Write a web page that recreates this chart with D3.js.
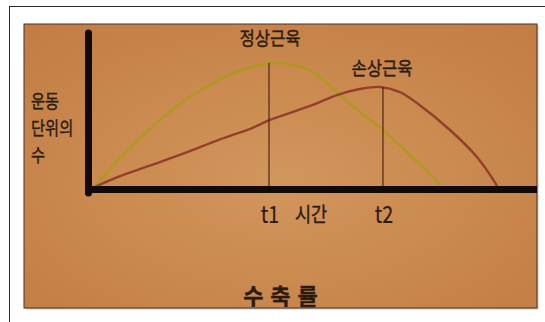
<!DOCTYPE html>
<html>
<head>
<meta charset="utf-8">
<script src="https://cdn.jsdelivr.net/npm/d3@7/dist/d3.min.js"></script>
<style>
  html, body { margin: 0; padding: 0; background: #ffffff; }
  svg { display: block; }
  text { font-family: "Noto Sans CJK KR", "Noto Sans", sans-serif; fill: #2b1a0e; stroke: #2b1a0e; stroke-width: 0.35px; }
</style>
</head>
<body>
<svg id="chart" width="545" height="322"></svg>
<script>
// Motor-unit recruitment over time: normal vs. damaged muscle
const seriesNames = ["정상근육", "손상근육"];

// time (arbitrary units) and number of motor units (relative)
const normalTime   = [0, 0.53, 1.31, 2.07, 2.83, 3.38, 4.0, 4.48, 5.01, 5.56, 6.09, 6.62, 7.24, 7.89, 7.95];
const normalUnits  = [0, 18, 40, 58, 71.3, 78, 82.7, 82, 76.7, 63.3, 50, 38, 21.3, 2.7, 0];

const damagedTime  = [0, 0.53, 1.31, 2.07, 2.83, 3.61, 4.02, 5.01, 5.56, 6.09, 6.55, 7.01, 7.40, 8.16, 8.78, 9.2, 9.25];
const damagedUnits = [0, 6.7, 14.7, 22.7, 31.3, 39.3, 44.7, 54.7, 61.3, 65.3, 66.7, 63.3, 56, 38, 20, 2.7, 0];

// marked time points
const markNames  = ["t1", "t2"];
const markTimes  = [4.0, 6.62];

const yTitleLines = ["운동", "단위의", "수"];
const xTitle = "시간";
const caption = "수 축 률";

const svg = d3.select("#chart");

// frame around the figure
svg.append("line").attr("x1", 9.5).attr("x2", 9.5).attr("y1", 6).attr("y2", 322)
  .attr("stroke", "#2a2a2a").attr("stroke-width", 1);
svg.append("line").attr("x1", 9).attr("x2", 545).attr("y1", 6.5).attr("y2", 6.5)
  .attr("stroke", "#2a2a2a").attr("stroke-width", 1);

// warm paper panel
const defs = svg.append("defs");
const grad = defs.append("radialGradient").attr("id", "paper")
  .attr("cx", "50%").attr("cy", "55%").attr("r", "75%");
grad.append("stop").attr("offset", "0%").attr("stop-color", "#d2965c");
grad.append("stop").attr("offset", "100%").attr("stop-color", "#c17c42");

const panel = { x: 24, y: 24, w: 513, h: 284 };
svg.append("rect").attr("x", panel.x + 1.5).attr("y", panel.y + 1.5)
  .attr("width", panel.w).attr("height", panel.h).attr("fill", "#9a8a80").attr("opacity", 0.5);
svg.append("rect").attr("x", panel.x).attr("y", panel.y)
  .attr("width", panel.w).attr("height", panel.h)
  .attr("fill", "url(#paper)").attr("stroke", "#4a3222").attr("stroke-width", 1);

// scales
const x = d3.scaleLinear().domain([0, 10]).range([95, 530]);
const y = d3.scaleLinear().domain([0, 100]).range([187, 37]);

const line = d3.line()
  .x(d => x(d[0])).y(d => y(d[1]))
  .curve(d3.curveCatmullRom.alpha(0.5));

const normal = normalTime.map((t, i) => [t, normalUnits[i]]);
const damaged = damagedTime.map((t, i) => [t, damagedUnits[i]]);

// curves
svg.append("path").datum(normal).attr("d", line)
  .attr("fill", "none").attr("stroke", "#ad9a1e").attr("stroke-width", 2.6)
  .attr("stroke-linecap", "round").attr("opacity", 0.95);
svg.append("path").datum(damaged).attr("d", line)
  .attr("fill", "none").attr("stroke", "#913a2a").attr("stroke-width", 2.4)
  .attr("stroke-linecap", "round").attr("opacity", 0.95);

// vertical markers at the peaks
const peaks = [d3.max(normalUnits), d3.max(damagedUnits)];
markTimes.forEach((t, i) => {
  svg.append("line")
    .attr("x1", x(t)).attr("x2", x(t))
    .attr("y1", y(peaks[i])).attr("y2", y(0) + 2)
    .attr("stroke", "#3d2012").attr("stroke-width", 1.1);
});

// thick axes
const axisColor = "#120a06";
svg.append("line").attr("x1", 88.5).attr("x2", 88.5).attr("y1", 33).attr("y2", 193)
  .attr("stroke", axisColor).attr("stroke-width", 7).attr("stroke-linecap", "round");
svg.append("line").attr("x1", 85).attr("x2", panel.x + panel.w).attr("y1", 189.5).attr("y2", 189.5)
  .attr("stroke", axisColor).attr("stroke-width", 7);

// series labels
svg.append("text").attr("transform", "translate(270,45) scale(0.95,1.05)")
  .attr("text-anchor", "middle").attr("font-size", 17.5).text(seriesNames[0]);
svg.append("text").attr("transform", "translate(382,75) scale(0.95,1.05)")
  .attr("text-anchor", "middle").attr("font-size", 17.5).text(seriesNames[1]);

// y title
yTitleLines.forEach((s, i) => {
  svg.append("text").attr("transform", `translate(31,${108 + i * 27}) scale(0.9,1.05)`)
    .attr("font-size", 17).text(s);
});

// marker labels (narrow lettering)
markNames.forEach((s, i) => {
  svg.append("text")
    .attr("transform", `translate(${x(markTimes[i]) + 1},223) scale(0.82,1)`)
    .attr("text-anchor", "middle")
    .attr("font-family", "Liberation Sans, Arial, sans-serif")
    .attr("font-size", 24).style("stroke-width", "0.2px").text(s);
});
svg.append("text")
  .attr("transform", "translate(311,222) scale(0.9,1.05)")
  .attr("text-anchor", "middle").attr("font-size", 19.5).text(xTitle);

// caption
svg.append("text").attr("x", 281).attr("y", 304).attr("text-anchor", "middle")
  .attr("font-size", 22).attr("font-weight", "bold").attr("letter-spacing", 1).text(caption);
</script>
</body>
</html>
